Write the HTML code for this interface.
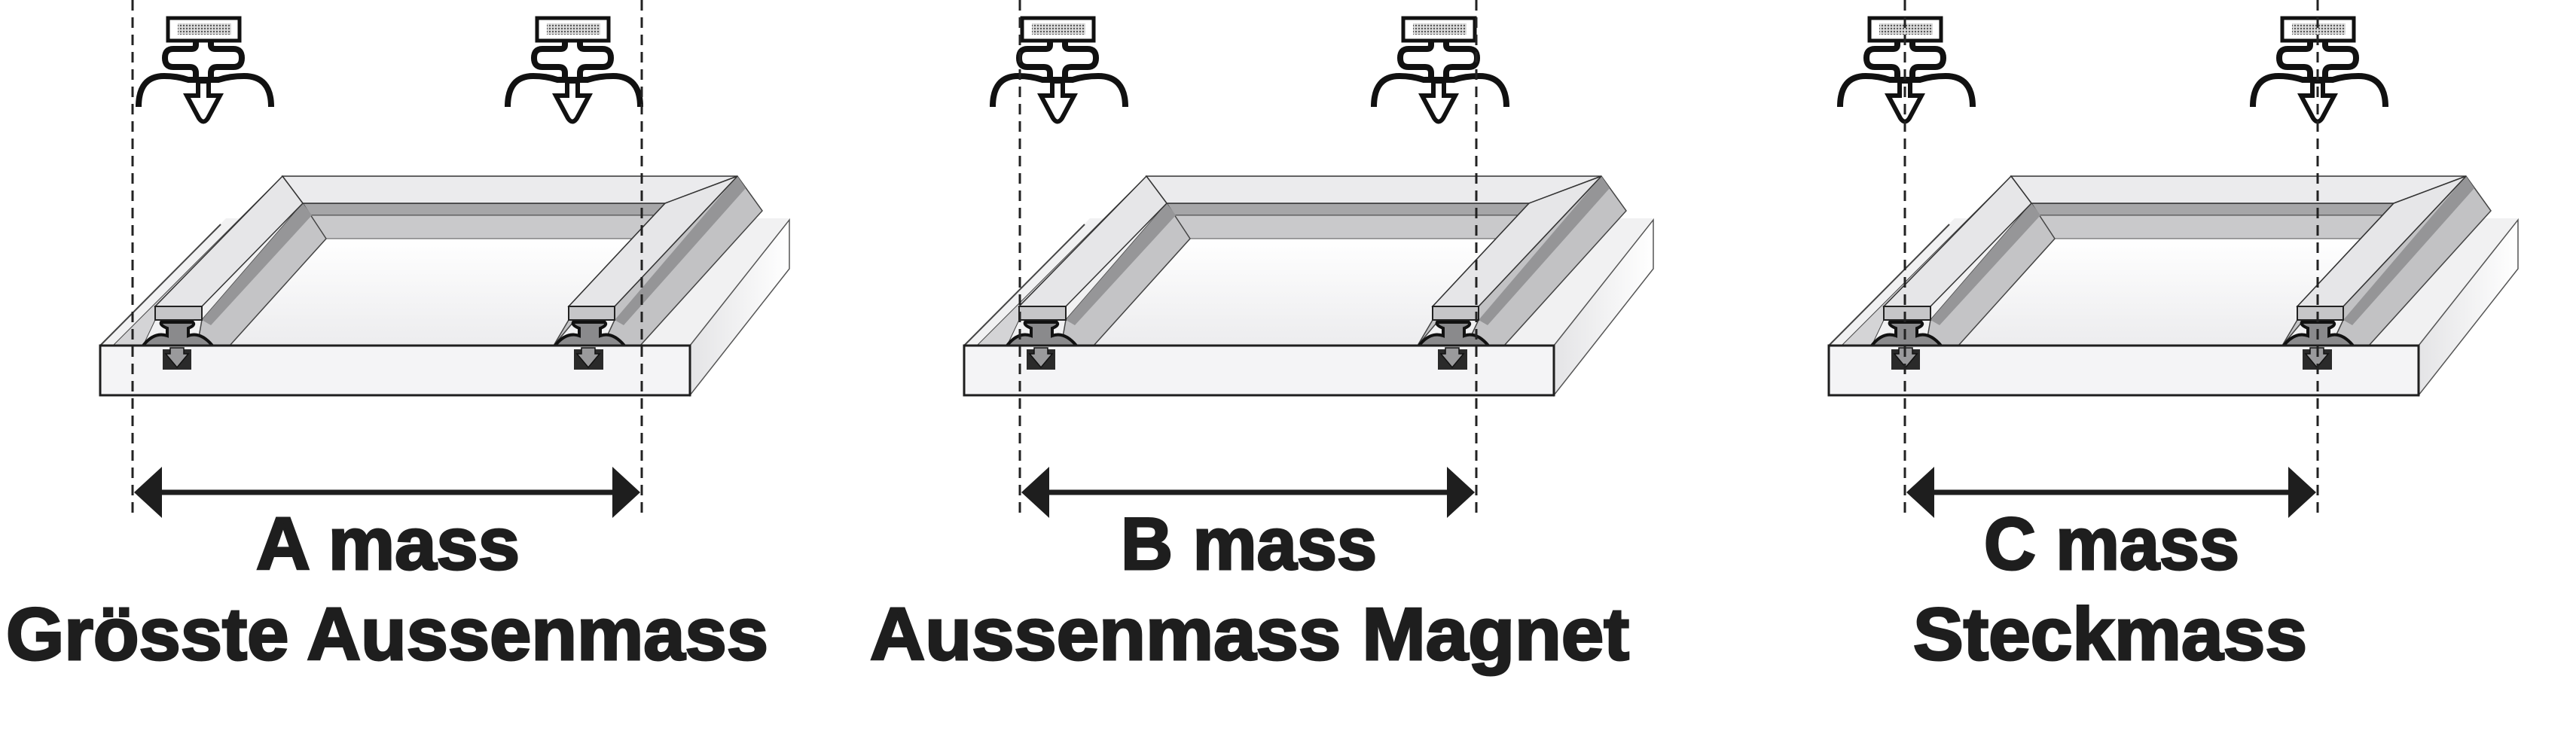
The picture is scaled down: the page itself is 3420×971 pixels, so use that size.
<!DOCTYPE html>
<html><head><meta charset="utf-8"><style>
html,body{margin:0;padding:0;background:#fff;}
svg{display:block;}
text{font-family:"Liberation Sans",sans-serif;font-weight:bold;fill:#1e1e1e;stroke:#1e1e1e;stroke-width:3;}
</style></head><body>
<svg width="3420" height="971" viewBox="0 0 3420 971" xmlns="http://www.w3.org/2000/svg">
<defs>
<pattern id="dots" width="4" height="4" patternUnits="userSpaceOnUse"><rect width="4" height="4" fill="#ddd"/><circle cx="2" cy="2" r="1.2" fill="#555"/></pattern>
<linearGradient id="win" x1="0" y1="0" x2="0" y2="1"><stop offset="0" stop-color="#ffffff"/><stop offset="1" stop-color="#ececee"/></linearGradient>
<linearGradient id="side" x1="0" y1="0" x2="1" y2="0"><stop offset="0" stop-color="#e4e4e6"/><stop offset="1" stop-color="#ffffff"/></linearGradient>
<g id="frame">
  <polygon points="133,459 300,290 1048,290 916,459" fill="#f1f1f2"/>
  <line x1="133" y1="459" x2="293" y2="298" stroke="#444" stroke-width="2"/>
  <polygon points="916,459 1048,292 1048,357 916,525" fill="url(#side)" stroke="#555" stroke-width="1.5"/>
  <polygon points="433,317 854,317 735,459 305,459" fill="url(#win)"/>
  <polygon points="402,270 883,270 870,286 412,286" fill="#a6a6a8" stroke="#444" stroke-width="1.5"/>
  <polygon points="412,286 870,286 854,317 433,317" fill="#c9c9cb" stroke="#555" stroke-width="1"/>
  <polygon points="402,270 433,317 305,459 262,459 268,425" fill="#c4c4c6" stroke="#444" stroke-width="1.5"/>
  <polygon points="402,270 414,286 280,432 268,425" fill="#969698"/>
  <polygon points="883,270 870,286 854,317 735,459 755,425 755,407" fill="#c4c4c6" stroke="#444" stroke-width="1.5"/>
  <polygon points="979,234 1012,280 850,459 800,459 816,425 816,407" fill="#c2c2c4" stroke="#444" stroke-width="1.5"/>
  <polygon points="979,234 990,250 828,432 816,425" fill="#959597"/>
  <polygon points="375,234 206,407 206,425 190,459 150,459" fill="#d4d4d6" stroke="#444" stroke-width="1"/>
  <polygon points="375,234 979,234 883,270 402,270" fill="#ebebed" stroke="#333" stroke-width="1.5"/>
  <polygon points="375,234 402,270 268,407 206,407" fill="#e6e6e8" stroke="#333" stroke-width="1.5"/>
  <polygon points="979,234 816,407 755,407 883,270" fill="#e6e6e8" stroke="#333" stroke-width="1.5"/>
  <rect x="206" y="407" width="62" height="18" fill="#c6c6c8" stroke="#222" stroke-width="2"/>
  <rect x="755" y="407" width="61" height="18" fill="#c6c6c8" stroke="#222" stroke-width="2"/>
  <path d="M190 459 Q205 440 222 446 L222 436 Q212 432 214 428 L256 428 Q260 432 250 436 L250 446 Q266 440 282 459" fill="#8a8a8c" stroke="#111" stroke-width="4"/>
  <path d="M737 459 Q752 440 769 446 L769 436 Q759 432 761 428 L803 428 Q807 432 797 436 L797 446 Q813 440 829 459" fill="#8a8a8c" stroke="#111" stroke-width="4"/>
  <rect x="133" y="459" width="783" height="66" fill="#f4f4f6" stroke="#1e1e1e" stroke-width="3"/>
  <rect x="216" y="464" width="38" height="27" fill="#2a2a2a"/>
  <polygon points="226,462 244,462 244,470 250,470 235,488 220,470 226,470" fill="#9a9a9c" stroke="#111" stroke-width="1.5"/>
  <rect x="762" y="464" width="39" height="27" fill="#2a2a2a"/>
  <polygon points="772,462 790,462 790,470 796,470 781,488 766,470 772,470" fill="#9a9a9c" stroke="#111" stroke-width="1.5"/>
</g>
<g id="icon">
  <rect x="-47" y="24" width="95" height="30" fill="#fff" stroke="#111" stroke-width="5"/>
  <rect x="-34" y="31" width="71" height="15" fill="url(#dots)"/>
  <path d="M-10 56 V60 Q-10 65 -16 65 H-40 Q-51 65 -51 77 Q-51 89 -40 89 H-18 Q-10 89 -10 97 V104 M10 56 V60 Q10 65 16 65 H40 Q51 65 51 77 Q51 89 40 89 H18 Q10 89 10 97 V104" fill="none" stroke="#111" stroke-width="8"/>
  <path d="M-86 142 Q-86 101 -52 101 Q-35 101 -20 106 H20 Q35 101 54 101 Q90 101 90 142" fill="none" stroke="#111" stroke-width="8"/>
  <path d="M-7 108 V127 H-22 L-6 157 Q0 166 6 157 L22 127 H7 V108 Z" fill="#fff" stroke="#111" stroke-width="6"/>
</g>
</defs>

<use href="#frame"/>
<use href="#frame" transform="translate(1147,0)"/>
<use href="#frame" transform="translate(2295,0)"/>

<use href="#icon" transform="translate(270,0)"/>
<use href="#icon" transform="translate(760,0)"/>
<use href="#icon" transform="translate(1404,0)"/>
<use href="#icon" transform="translate(1910,0)"/>
<use href="#icon" transform="translate(2529,0)"/>
<use href="#icon" transform="translate(3077,0)"/>

<g stroke="#222" stroke-width="3" stroke-dasharray="14 9">
  <line x1="176" y1="0" x2="176" y2="682"/>
  <line x1="852" y1="0" x2="852" y2="682"/>
  <line x1="1354" y1="0" x2="1354" y2="682"/>
  <line x1="1960" y1="0" x2="1960" y2="682"/>
  <line x1="2529" y1="0" x2="2529" y2="682"/>
  <line x1="3077" y1="0" x2="3077" y2="682"/>
</g>

<g fill="#1e1e1e" stroke="#1e1e1e">
  <line x1="200" y1="654" x2="830" y2="654" stroke-width="7"/>
  <polygon points="178,654 215,620 215,688" stroke="none"/>
  <polygon points="850,654 813,620 813,688" stroke="none"/>
  <line x1="1380" y1="654" x2="1935" y2="654" stroke-width="7"/>
  <polygon points="1356,654 1393,620 1393,688" stroke="none"/>
  <polygon points="1958,654 1921,620 1921,688" stroke="none"/>
  <line x1="2555" y1="654" x2="3052" y2="654" stroke-width="7"/>
  <polygon points="2531,654 2568,620 2568,688" stroke="none"/>
  <polygon points="3075,654 3038,620 3038,688" stroke="none"/>
</g>

<text x="340" y="756" font-size="98" textLength="350" lengthAdjust="spacingAndGlyphs">A mass</text>
<text x="8" y="876" font-size="98" textLength="1012" lengthAdjust="spacingAndGlyphs">Grösste Aussenmass</text>
<text x="1488" y="756" font-size="98" textLength="340" lengthAdjust="spacingAndGlyphs">B mass</text>
<text x="1155" y="876" font-size="98" textLength="1008" lengthAdjust="spacingAndGlyphs">Aussenmass Magnet</text>
<text x="2634" y="756" font-size="98" textLength="339" lengthAdjust="spacingAndGlyphs">C mass</text>
<text x="2540" y="876" font-size="98" textLength="523" lengthAdjust="spacingAndGlyphs">Steckmass</text>
</svg>
</body></html>
